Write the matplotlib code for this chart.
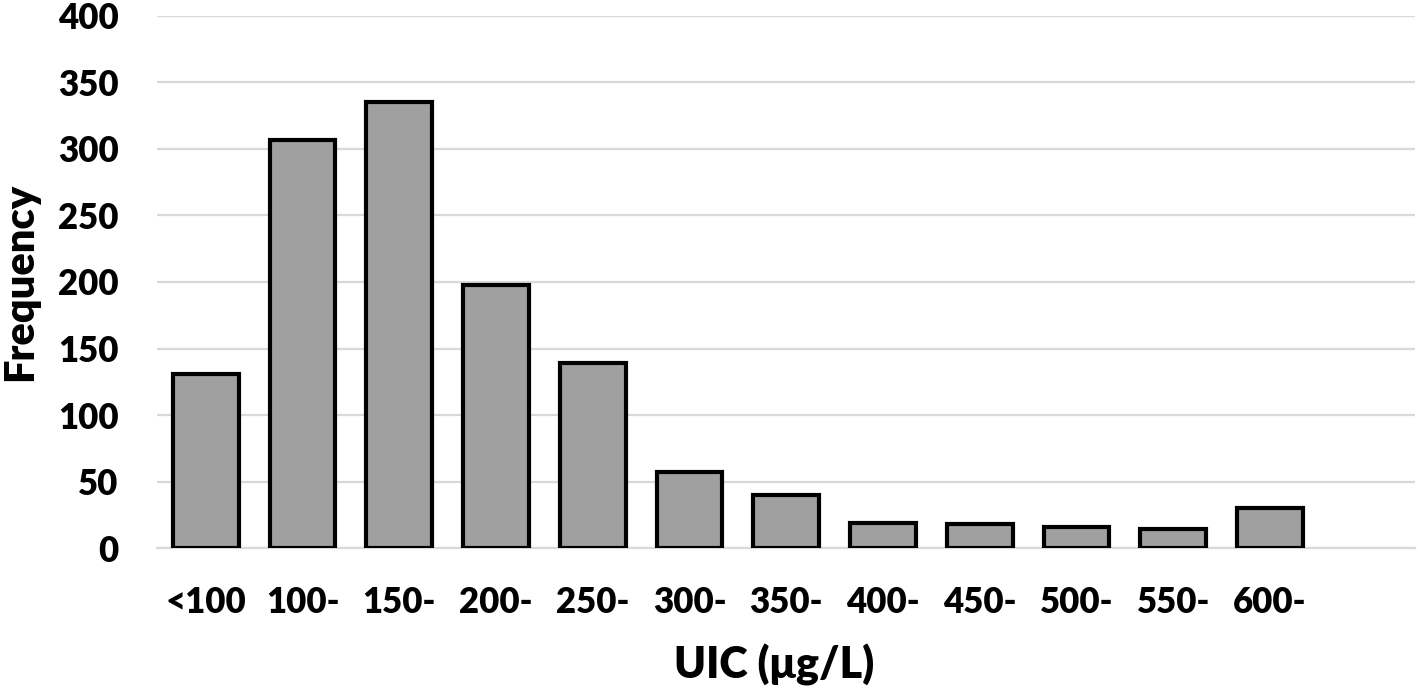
import matplotlib
matplotlib.use("Agg")
import matplotlib.pyplot as plt

categories = ["<100", "100-", "150-", "200-", "250-", "300-", "350-", "400-", "450-", "500-", "550-", "600-"]
frequency = [131, 307, 335, 198, 139, 57, 40, 19, 18, 16, 14, 30]
yticks = [0, 50, 100, 150, 200, 250, 300, 350, 400]

plt.rcParams['font.family'] = ['Lato', 'DejaVu Sans']

fig = plt.figure(figsize=(14.18, 6.92), dpi=100)
ax = fig.add_axes([0.111, 0.208, 0.887, 0.769])

x = list(range(len(categories)))
ax.bar(x, frequency, width=0.68, color="#a0a0a0", edgecolor="black", linewidth=3.0, zorder=3)

ax.set_xlim(-0.5, 12.5)
ax.set_ylim(0, 400)
ax.set_yticks(yticks)
ax.set_yticklabels([str(v) for v in yticks], fontsize=25, fontweight='heavy')
ax.set_xticks(x)
ax.set_xticklabels(categories, fontsize=25, fontweight='heavy')
ax.tick_params(axis='y', length=0, pad=28)
ax.tick_params(axis='x', length=0, pad=27)

ax.grid(axis='y', color="#d9d9d9", linewidth=1.6, zorder=0)
for s in ['top', 'right', 'left']:
    ax.spines[s].set_visible(False)
ax.spines['bottom'].set_color("#d9d9d9")
ax.spines['bottom'].set_linewidth(1.6)

ax.set_ylabel("Frequency", fontsize=30, fontweight='heavy')
ax.yaxis.set_label_coords(-0.094, 0.5)
ax.set_xlabel("UIC (μg/L)", fontsize=31, fontweight='heavy')
ax.xaxis.set_label_coords(0.49, -0.18)

fig.savefig("out.png", dpi=100)
